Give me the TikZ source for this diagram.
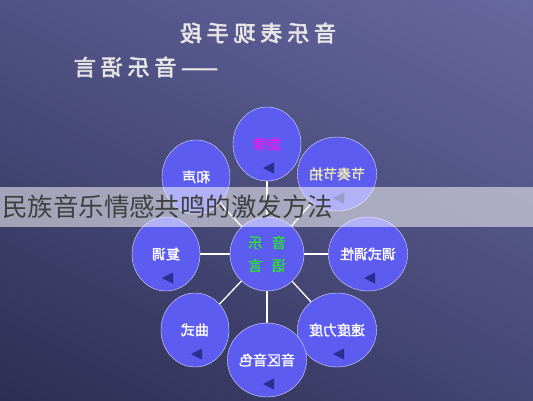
\documentclass[tikz,border=0pt]{standalone}
\usepackage{fontspec}
\setmainfont{Noto Sans CJK SC}
\newfontfamily\titlefont[FakeBold=3,LetterSpace=22]{Noto Sans CJK SC}
\newfontfamily\discfont[FakeBold=1.5]{Noto Sans CJK SC}
\usetikzlibrary{shapes, arrows, positioning, calc, shadings}

\definecolor{discblue}{HTML}{5C5CF0}
\definecolor{trinavy}{HTML}{26308E}
\definecolor{melodypink}{HTML}{E41CE6}
\definecolor{hubgreen}{HTML}{2EDC3A}
\definecolor{rhythmyellow}{HTML}{F2EEB4}
\definecolor{bgul}{RGB}{80,82,134}
\definecolor{bgur}{RGB}{104,104,160}
\definecolor{bgll}{RGB}{44,46,82}
\definecolor{bglr}{RGB}{68,70,116}

\begin{document}
\begin{tikzpicture}
  [
  x = 1pt, y = 1pt,
  % disc
  disc/.style = {ellipse,
    draw = white!80!discblue, thin,
    fill = discblue,
    minimum width = 68pt,
    minimum height = 74pt,
    inner sep = 0pt,
    text = white,
    font = \discfont\fontsize{14}{15}\selectfont},
  % hub
  hub/.style = {disc,
    minimum width = 74pt,
    text = hubgreen,
    align = center,
    font = \discfont\fontsize{14.5}{23}\selectfont},
  % title
  heading/.style = {text = white!90!black,
    font = \titlefont\fontsize{22}{24}\selectfont},
  % banner
  banner/.style = {rectangle,
    fill = white, fill opacity = 0.52, text opacity = 1,
    minimum width = 533pt, minimum height = 40pt,
    text width = 529pt, align = left,
    inner sep = 2pt, text = black!75,
    font = \fontsize{25.5}{27}\selectfont},
  % line
  line/.style = {draw = white, line width = 1.3pt},
  % triangle
  tri/.style = {fill = trinavy},
  % distance
  on grid,
  ]

  % background
  \useasboundingbox (0,0) rectangle (533,-400);
  \shade [upper left = bgul, upper right = bgur,
    lower left = bgll, lower right = bglr]
    (0,0) rectangle (533,-400);

  % heading
  \node [heading] (title) at (258,-33) {\reflectbox{音乐表现手段}};
  \node [heading] (subtitle) at (146,-67) {\reflectbox{——音乐语言}};

  % nodes
  \node [hub] (hub) at (267,-254) {\reflectbox{音\hspace{9pt}乐}\\\reflectbox{语\hspace{9pt}言}};
  \node [disc, above= 110pt of hub, text = melodypink] (melody) {\reflectbox{旋律}};
  \node [disc, above right= 80pt and 70pt of hub, text = rhythmyellow] (rhythm) {\reflectbox{节奏节拍}};
  \node [disc, above left= 77pt and 71pt of hub] (harmony) {\reflectbox{和声}};
  \node [disc, left= 101pt of hub] (poly) {\reflectbox{复调}};
  \node [disc, right= 101pt of hub] (mode) {\reflectbox{调式调性}};
  \node [disc, below left= 76pt and 72pt of hub] (form) {\reflectbox{曲式}};
  \node [disc, below right= 76pt and 70pt of hub] (tempo) {\reflectbox{速度力度}};
  \node [disc, below= 106pt of hub] (register) {\reflectbox{音区音色}};

  % path
  \foreach \n in {melody, rhythm, harmony, poly, mode, form, tempo, register}
    \path [line] (hub) -- (\n);

  % triangles
  \foreach \n in {melody, rhythm, harmony, poly, mode, form, tempo, register}
    \fill [tri] ($(\n)+(-4,-24)$) -- ++(11,5.5) -- ++(0,-11) -- cycle;

  % banner
  \node [banner] (note) at (266.5,-207) {民族音乐情感共鸣的激发方法};

\end{tikzpicture}
\end{document}
